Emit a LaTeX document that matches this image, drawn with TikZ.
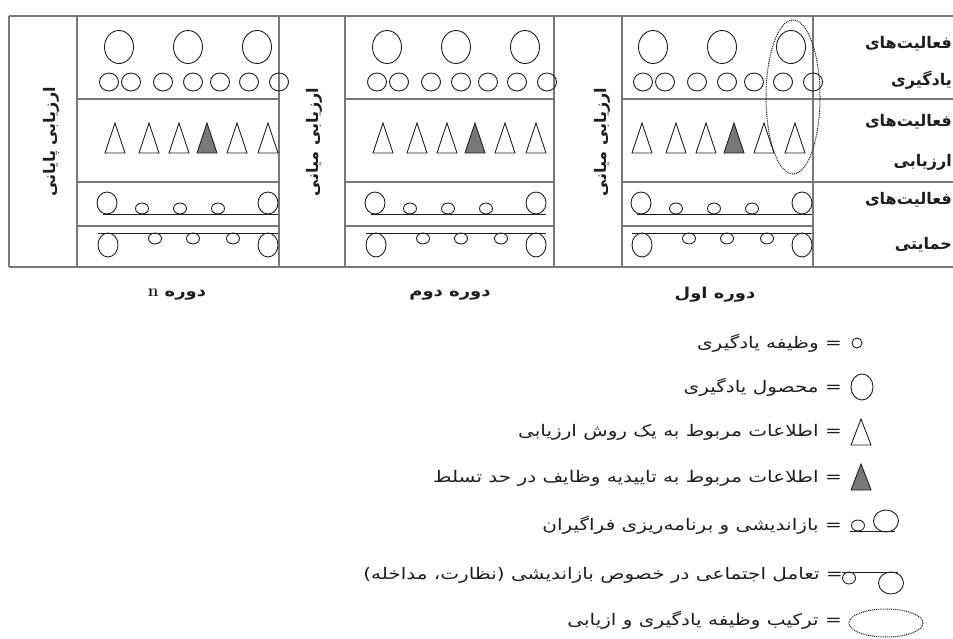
\documentclass[tikz,border=0pt]{standalone}
\usepackage{fontspec}
\newfontfamily\fa[Script=Arabic]{DejaVu Sans}
\newfontfamily\falg[Script=Arabic,FakeStretch=1.25]{DejaVu Sans}
\newfontfamily\fap[Script=Arabic,FakeStretch=1.2]{DejaVu Sans}
\TeXXeTstate=1
\definecolor{tbl}{RGB}{120,120,120}
\definecolor{ink}{RGB}{30,30,30}
\definecolor{tri}{RGB}{120,120,120}
\tikzset{
  grid/.style={draw=tbl,line width=1.1pt},
  sym/.style={draw=ink,line width=0.9pt},
  lab/.style={font={\fa\bfseries\fontsize{16}{18}\selectfont},inner sep=0pt,text=ink},
  vlab/.style={font={\fa\bfseries\fontsize{16}{18}\selectfont},inner sep=0pt,text=ink,rotate=90},
  plab/.style={font={\fap\bfseries\fontsize{15}{17}\selectfont},inner sep=0pt,text=ink},
  leg/.style={font={\falg\fontsize{16}{18}\selectfont},inner sep=0pt,text=ink,anchor=east},
  comb/.style={draw=ink,line width=1pt,dash pattern=on 1pt off 0.9pt}
}
\newcommand\periodcells[3]{% #1 left x, #2 circle shift, #3 triangle shift
  \foreach \r in {42,111,180}
    \draw[sym] ({#1+#2+\r},47) ellipse [x radius=14.5pt,y radius=16.5pt];
  \foreach \r in {32,54,86,116,143,172,202}
    \draw[sym] ({#1+#2+\r},82) ellipse [x radius=9.5pt,y radius=9pt];
  \foreach \r in {38,72,102,160,191}
    \draw[sym,line join=miter] ({#1+#3+\r-10},153) -- ({#1+#3+\r},123) -- ({#1+#3+\r+10},153) -- cycle;
  \filldraw[sym,fill=tri] ({#1+#3+130-10},153) -- ({#1+#3+130},123) -- ({#1+#3+130+10},153) -- cycle;
  % support row 1
  \draw[sym] ({#1+#2+26},214) -- ({#1+#2+201},214);
  \draw[sym] ({#1+#2+30},203) ellipse [x radius=10pt,y radius=11pt];
  \draw[sym] ({#1+#2+191},203) ellipse [x radius=10pt,y radius=11pt];
  \foreach \r in {65,103,141}
    \draw[sym] ({#1+#2+\r},208.5) ellipse [x radius=6.5pt,y radius=5.5pt];
  % support row 2
  \draw[sym] ({#1+#2+21},233) -- ({#1+#2+201},233);
  \draw[sym] ({#1+#2+31},245) ellipse [x radius=10pt,y radius=12pt];
  \draw[sym] ({#1+#2+191},245) ellipse [x radius=10pt,y radius=12pt];
  \foreach \r in {78,116,156}
    \draw[sym] ({#1+#2+\r},238.5) ellipse [x radius=6.5pt,y radius=5.5pt];
}
\begin{document}
\begin{tikzpicture}[x=1pt,y=-1pt]
\useasboundingbox (0,0) rectangle (953,639);
% table grid
\draw[grid] (9,16) -- (953,16);
\draw[grid] (9,267) -- (953,267);
\foreach \x in {9,77,279,345,554,622,813}
  \draw[grid] (\x,16) -- (\x,267);
\foreach \y in {99,182} {
  \draw[grid] (77,\y) -- (279,\y);
  \draw[grid] (345,\y) -- (554,\y);
  \draw[grid] (622,\y) -- (953,\y);
}
\draw[grid] (77,226) -- (279,226);
\draw[grid] (345,226) -- (554,226);
\draw[grid] (622,226) -- (813,226);
% cell contents
\periodcells{77}{0}{0}
\periodcells{345}{0}{0}
\periodcells{622}{-11}{-18}
\draw[comb] (793,97) ellipse [x radius=27pt,y radius=77pt];
% row labels
\node[lab,anchor=east] (r1a) at (952,44) {\beginR فعالیت‌های\endR};
\node[lab,anchor=east] (r1b) at (952,80) {\beginR یادگیری\endR};
\node[lab,anchor=east] (r2a) at (952,122) {\beginR فعالیت‌های\endR};
\node[lab,anchor=east] (r2b) at (952,162) {\beginR ارزیابی\endR};
\node[lab,anchor=east] (r3a) at (952,200) {\beginR فعالیت‌های\endR};
\node[lab,anchor=east] (r3b) at (952,245) {\beginR حمایتی\endR};
% assessment columns
\node[vlab] (e0) at (51,142) {\beginR ارزیابی پایانی\endR};
\node[vlab] (e1) at (314,142) {\beginR ارزیابی میانی\endR};
\node[vlab] (e2) at (602,142) {\beginR ارزیابی میانی\endR};
% period labels
\node[plab] (pn) at (177,295) {\beginR دوره \beginL{\rmfamily\bfseries\fontsize{17}{19}\selectfont n}\endL\endR};
\node[plab] (p2) at (450,295) {\beginR دوره دوم\endR};
\node[plab] (p1) at (715,295) {\beginR دوره اول\endR};
% legend symbols
\draw[sym] (857,343) circle [radius=5pt];
\draw[sym] (862,387) ellipse [x radius=11pt,y radius=13pt];
\draw[sym,line join=miter] (851,445) -- (861,419) -- (871,445) -- cycle;
\filldraw[sym,fill=tri,line join=miter] (851,490) -- (861,464) -- (871,490) -- cycle;
\draw[sym] (850,531) -- (895,531);
\draw[sym] (858,525.5) ellipse [x radius=6.5pt,y radius=5.5pt];
\draw[sym] (886,521) ellipse [x radius=12.5pt,y radius=11pt];
\draw[sym] (842,572) -- (898,572);
\draw[sym] (849,578) ellipse [x radius=6.5pt,y radius=6pt];
\draw[sym] (891,583) ellipse [x radius=12.5pt,y radius=11pt];
\draw[comb] (886,623) ellipse [x radius=37pt,y radius=14pt];
% legend texts
\node[leg] (g1) at (842,343) {\beginR= وظیفه یادگیری\endR};
\node[leg] (g2) at (842,387) {\beginR= محصول یادگیری\endR};
\node[leg] (g3) at (842,432) {\beginR= اطلاعات مربوط به یک روش ارزیابی\endR};
\node[leg] (g4) at (842,478) {\beginR= اطلاعات مربوط به تاییدیه وظایف در حد تسلط\endR};
\node[leg] (g5) at (842,525) {\beginR= بازاندیشی و برنامه‌ریزی فراگیران\endR};
\node[leg] (g6) at (843,575) {\beginR= تعامل اجتماعی در خصوص بازاندیشی (نظارت، مداخله)\endR};
\node[leg] (g7) at (842,620) {\beginR= ترکیب وظیفه یادگیری و ازیابی\endR};
\end{tikzpicture}
\end{document}
